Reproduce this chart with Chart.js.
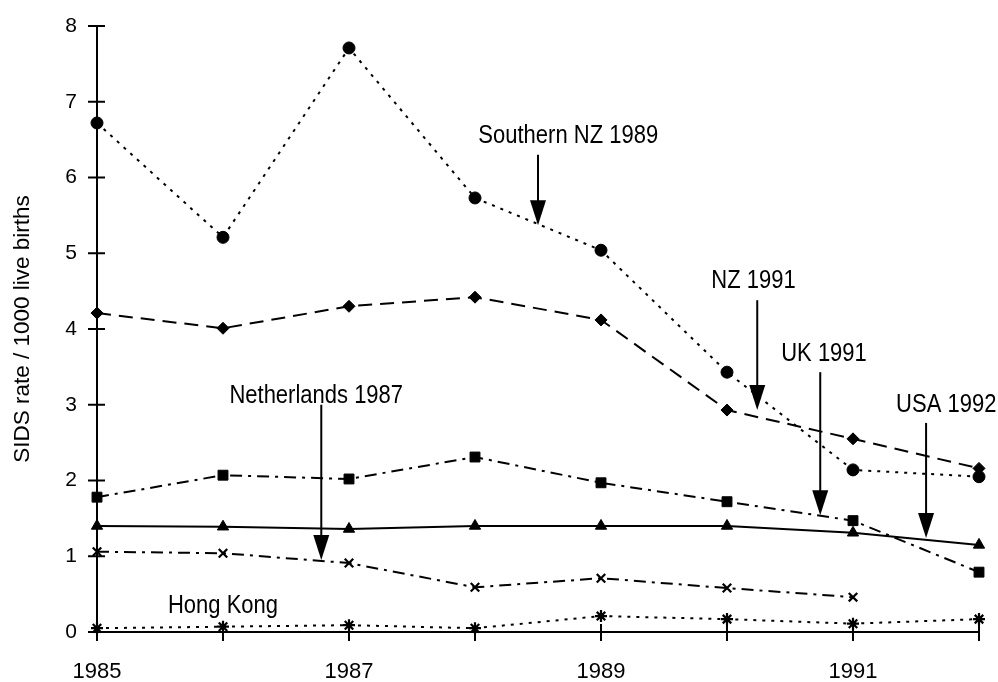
<!DOCTYPE html>
<html>
<head>
<meta charset="utf-8">
<script src="https://cdn.jsdelivr.net/npm/chart.js@4"></script>
<style>
  html, body { margin: 0; padding: 0; background: #fff; overflow: hidden; }
  #wrap { width: 998px; height: 682px; }
</style>
</head>
<body>
<div id="wrap"><canvas id="sids"></canvas></div>
<script>
// SIDS rate per 1000 live births
const years = [1985, 1986, 1987, 1988, 1989, 1990, 1991, 1992];
const southernNZ = [6.72, 5.21, 7.71, 5.73, 5.04, 3.43, 2.14, 2.05];
const newZealand = [4.21, 4.01, 4.30, 4.42, 4.12, 2.93, 2.55, 2.16];
const unitedKingdom = [1.78, 2.07, 2.02, 2.31, 1.97, 1.72, 1.47, 0.79];
const usa = [1.40, 1.39, 1.36, 1.40, 1.40, 1.40, 1.31, 1.15];
const netherlands = [1.06, 1.04, 0.91, 0.59, 0.71, 0.58, 0.46, null];
const hongKong = [0.05, 0.07, 0.09, 0.05, 0.21, 0.17, 0.11, 0.17];
const xTickLabels = [1985, 1987, 1989, 1991];

// campaign markers: label, arrow year, arrow top/tip values, label position
const campaigns = [
  { text: "Southern NZ 1989", x: 1988.5, top: 6.30, tip: 5.37, tx: 1988.74, ty: 6.46 },
  { text: "NZ 1991", x: 1990.24, top: 4.38, tip: 2.93, tx: 1990.21, ty: 4.54 },
  { text: "UK 1991", x: 1990.74, top: 3.43, tip: 1.54, tx: 1990.77, ty: 3.58 },
  { text: "USA 1992", x: 1991.58, top: 2.76, tip: 1.24, tx: 1991.74, ty: 2.90 },
  { text: "Netherlands 1987", x: 1986.78, top: 3.0, tip: 0.95, tx: 1986.74, ty: 3.02 },
  { text: "Hong Kong", x: null, tx: 1986.0, ty: 0.25 },
];

const pts = (vals) => years.map((y, i) => ({ x: y, y: vals[i] }));

function series(label, vals, style, dash, radius) {
  const stroked = style === "crossRot" || style === "star";
  return {
    label: label,
    data: pts(vals),
    borderColor: "#000",
    backgroundColor: "#000",
    borderWidth: 2,
    borderDash: dash,
    pointStyle: style,
    pointRadius: radius,
    pointBorderWidth: stroked ? 2.2 : 1,
    pointBorderColor: "#000",
    pointBackgroundColor: "#000",
    tension: 0,
    spanGaps: false,
    clip: false,
  };
}

const annotFont = '25px "Liberation Sans", Arial, sans-serif';
const narrow = 0.88;

const decorations = {
  id: "decorations",
  afterDraw(chart) {
    const c = chart.ctx;
    const xs = chart.scales.x;
    const ys = chart.scales.y;
    c.save();
    c.strokeStyle = "#000";
    c.fillStyle = "#000";
    c.lineWidth = 2;
    // tick marks crossing the axes
    for (let v = 0; v <= 8; v++) {
      const py = ys.getPixelForValue(v);
      c.beginPath();
      c.moveTo(xs.left - 9, py);
      c.lineTo(xs.left + 8, py);
      c.stroke();
    }
    years.forEach((yr) => {
      const px = xs.getPixelForValue(yr);
      c.beginPath();
      c.moveTo(px, ys.bottom - 8);
      c.lineTo(px, ys.bottom + 9);
      c.stroke();
    });
    // labels and arrows
    c.font = annotFont;
    c.textAlign = "center";
    c.textBaseline = "alphabetic";
    campaigns.forEach((a) => {
      const lx = xs.getPixelForValue(a.tx);
      const ly = ys.getPixelForValue(a.ty);
      c.save();
      c.translate(lx, ly);
      c.scale(narrow, 1);
      c.fillText(a.text, 0, 0);
      c.restore();
      if (a.x === null) return;
      const px = xs.getPixelForValue(a.x);
      const top = ys.getPixelForValue(a.top);
      const tip = ys.getPixelForValue(a.tip);
      c.beginPath();
      c.moveTo(px, top);
      c.lineTo(px, tip - 20);
      c.stroke();
      c.beginPath();
      c.moveTo(px - 8, tip - 25);
      c.lineTo(px + 8, tip - 25);
      c.lineTo(px, tip);
      c.closePath();
      c.fill();
    });
    c.restore();
  },
};

new Chart(document.getElementById("sids"), {
  type: "line",
  data: {
    datasets: [
      series("Southern NZ", southernNZ, "circle", [3, 6], 6),
      series("New Zealand", newZealand, "rectRot", [14, 8], 6),
      series("UK", unitedKingdom, "rect", [12, 6, 3, 6], 7),
      series("USA", usa, "triangle", [], 6.5),
      series("Netherlands", netherlands, "crossRot", [12, 6, 3, 6], 6),
      series("Hong Kong", hongKong, "star", [3, 6], 6),
    ],
  },
  options: {
    responsive: true,
    maintainAspectRatio: false,
    animation: false,
    layout: { padding: { top: 26, right: 19, left: 0, bottom: 0 } },
    scales: {
      x: {
        type: "linear",
        min: 1985,
        max: 1992,
        afterFit: (s) => { s.height = 50; },
        border: { display: true, color: "#000", width: 2 },
        grid: { display: true, drawOnChartArea: false, drawTicks: true, tickLength: 25, color: "rgba(0,0,0,0)" },
        ticks: {
          stepSize: 1,
          padding: 2,
          color: "#000",
          font: { family: '"Liberation Sans", Arial, sans-serif', size: 22 },
          maxRotation: 0,
          autoSkip: false,
          callback: (v) => (xTickLabels.includes(v) ? String(v) : ""),
        },
      },
      y: {
        min: 0,
        max: 8,
        afterFit: (s) => { s.width = 97; },
        border: { display: true, color: "#000", width: 2 },
        grid: { display: true, drawOnChartArea: false, drawTicks: true, tickLength: 18, color: "rgba(0,0,0,0)" },
        ticks: {
          stepSize: 1,
          padding: 2,
          color: "#000",
          font: { family: '"Liberation Sans", Arial, sans-serif', size: 21 },
        },
        title: {
          display: true,
          text: "SIDS rate / 1000 live births",
          color: "#000",
          font: { family: '"Liberation Sans", Arial, sans-serif', size: 22.5 },
          padding: { top: 9, bottom: 0 },
        },
      },
    },
    plugins: {
      legend: { display: false },
      tooltip: { enabled: false },
    },
  },
  plugins: [decorations],
});
</script>
</body>
</html>
